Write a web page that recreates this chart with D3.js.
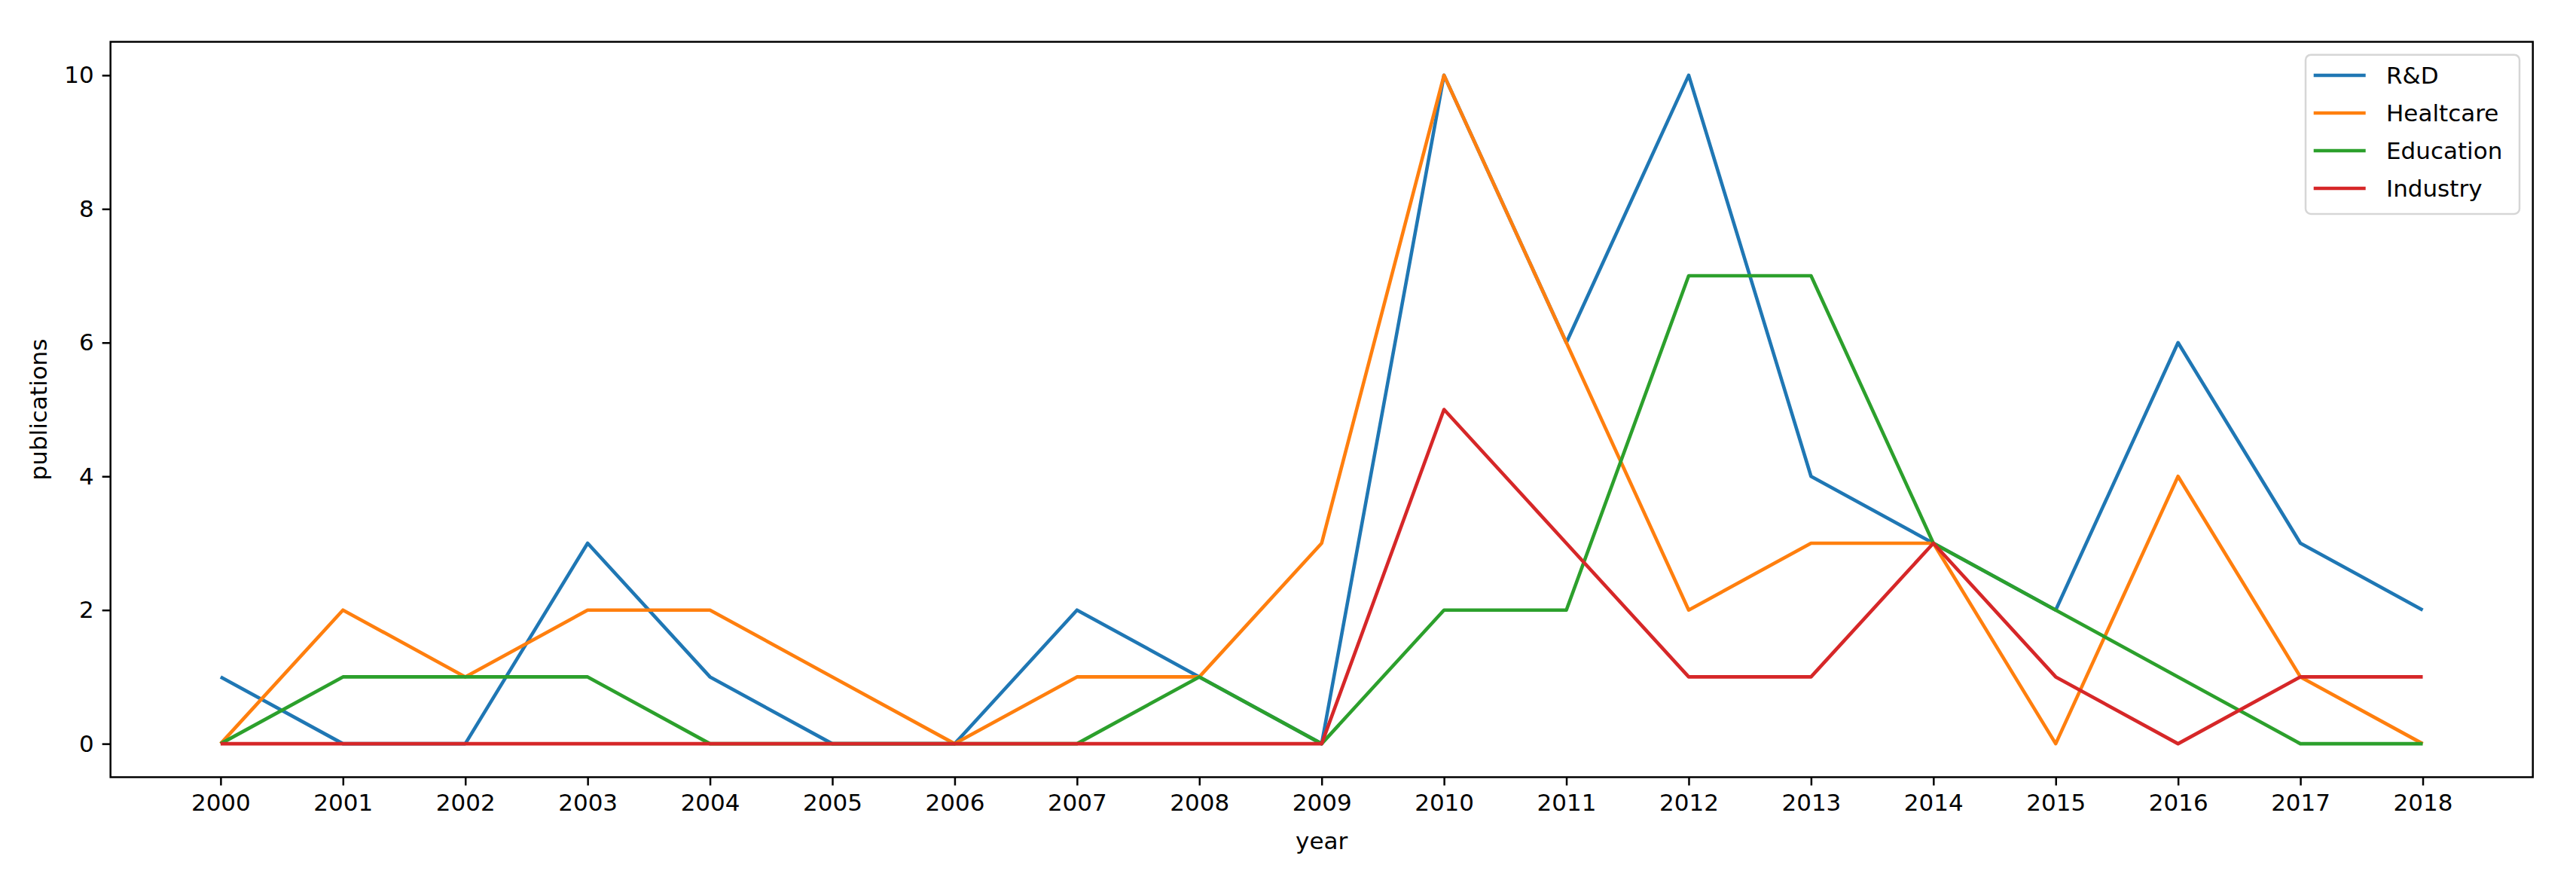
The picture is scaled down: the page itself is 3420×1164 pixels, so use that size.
<!DOCTYPE html>
<html>
<head>
<meta charset="utf-8">
<script src="https://cdn.jsdelivr.net/npm/d3@7"></script>
<style>
  html, body { margin: 0; padding: 0; background: #fff; }
  svg { display: block; }
  text { font-family: "DejaVu Sans", sans-serif; fill: #000; }
</style>
</head>
<body>
<svg id="chart" width="3420" height="1164"></svg>
<script>
const years = [2000,2001,2002,2003,2004,2005,2006,2007,2008,2009,2010,2011,2012,2013,2014,2015,2016,2017,2018];
const seriesNames = ["R&D", "Healtcare", "Education", "Industry"];
const rnd        = [1,0,0,3,1,0,0,2,1,0,10,6,10,4,3,2,6,3,2];
const healthcare = [0,2,1,2,2,1,0,1,1,3,10,6,2,3,3,0,4,1,0];
const education  = [0,1,1,1,0,0,0,0,1,0,2,2,7,7,3,2,1,0,0];
const industry   = [0,0,0,0,0,0,0,0,0,0,5,3,1,1,3,1,0,1,1];
const yTicks = [0,2,4,6,8,10];
const colors = ["#1f77b4", "#ff7f0e", "#2ca02c", "#d62728"];
const seriesValues = [rnd, healthcare, education, industry];

const svg = d3.select("#chart");
const L = 146.7, R = 3362.7, T = 55.5, B = 1031.5;
const fs = 31;

const x = d3.scaleLinear().domain([2000 - 0.9, 2018 + 0.9]).range([L, R]);
const y = d3.scaleLinear().domain([-0.5, 10.5]).range([B, T]);

// lines
const line = d3.line().x((d, i) => x(years[i])).y(d => y(d));
const plot = svg.append("g");
seriesValues.forEach((vals, k) => {
  plot.append("path")
    .datum(vals)
    .attr("d", line)
    .attr("fill", "none")
    .attr("stroke", colors[k])
    .attr("stroke-width", 4.6)
    .attr("stroke-linejoin", "round")
    .attr("stroke-linecap", "butt");
});

// axes
const xAxis = d3.axisBottom(x).tickValues(years).tickFormat(d3.format("d"))
  .tickSize(11).tickPadding(11).tickSizeOuter(0);
const gx = svg.append("g").attr("transform", `translate(0,${B})`).call(xAxis);
const yAxis = d3.axisLeft(y).tickValues(yTicks).tickFormat(d3.format("d"))
  .tickSize(11).tickPadding(11).tickSizeOuter(0);
const gy = svg.append("g").attr("transform", `translate(${L},0)`).call(yAxis);
[gx, gy].forEach(g => {
  g.select(".domain").remove();
  g.selectAll(".tick line").attr("stroke", "#000").attr("stroke-width", 2.5);
  g.selectAll(".tick text").attr("font-size", fs).attr("font-family", "DejaVu Sans").attr("fill", "#000");
});

// frame
svg.append("rect")
  .attr("x", L).attr("y", T).attr("width", R - L).attr("height", B - T)
  .attr("fill", "none").attr("stroke", "#000").attr("stroke-width", 2.5);

// axis labels
svg.append("text")
  .attr("x", (L + R) / 2).attr("y", 1127)
  .attr("text-anchor", "middle").attr("font-size", fs)
  .text("year");
svg.append("text")
  .attr("transform", `translate(62,${(T + B) / 2}) rotate(-90)`)
  .attr("text-anchor", "middle").attr("font-size", fs)
  .text("publications");

// legend
const lg = svg.append("g");
lg.append("rect")
  .attr("x", 3061).attr("y", 72.7).attr("width", 3345 - 3061).attr("height", 284 - 72.7)
  .attr("rx", 7).attr("ry", 7)
  .attr("fill", "#fff").attr("fill-opacity", 0.8)
  .attr("stroke", "#d6d6d6").attr("stroke-width", 2.5);
seriesNames.forEach((name, k) => {
  const yy = 100 + k * 50;
  lg.append("line")
    .attr("x1", 3071.7).attr("x2", 3140.7).attr("y1", yy).attr("y2", yy)
    .attr("stroke", colors[k]).attr("stroke-width", 4.6);
  lg.append("text")
    .attr("x", 3168).attr("y", yy).attr("dy", "0.36em")
    .attr("font-size", fs)
    .text(name);
});
</script>
</body>
</html>
